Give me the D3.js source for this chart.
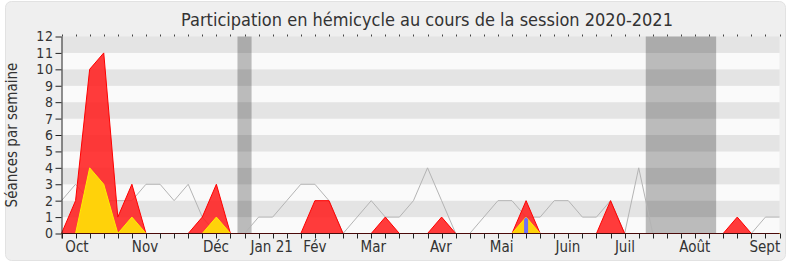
<!DOCTYPE html>
<html>
<head>
<meta charset="utf-8">
<script src="https://cdn.jsdelivr.net/npm/d3@7"></script>
<style>
  body { margin: 0; background: #fff; }
  text { font-family: "DejaVu Sans Condensed", "DejaVu Sans", sans-serif; fill: #333; }
</style>
</head>
<body>
<div id="chart"></div>
<script>
// one point per week, index 0..51
const presence = [0, 2, 10, 11, 1, 3, 0, 0, 0, 0, 1, 3, 0, 0, 0, 0, 0, 0, 2, 2, 0, 0, 0, 1, 0, 0,
                  0, 1, 0, 0, 0, 0, 0, 2, 0, 0, 0, 0, 0, 2, 0, 0, 0, 0, 0, 0, 0, 0, 1, 0, 0, 0];
const interventions = [0, 0, 4, 3, 0, 1, 0, 0, 0, 0, 0, 1, 0, 0, 0, 0, 0, 0, 0, 0, 0, 0, 0, 0, 0, 0,
                       0, 0, 0, 0, 0, 0, 0, 1, 0, 0, 0, 0, 0, 0, 0, 0, 0, 0, 0, 0, 0, 0, 0, 0, 0, 0];
const mediane = [2, 3, 2, 2, 2, 2, 3, 3, 2, 3, 1, 0, 0, 0, 1, 1, 2, 3, 3, 2, 0, 1, 2, 1, 1, 2,
                 4, 2, 0, 0, 1, 2, 2, 1, 1, 2, 2, 1, 1, 2, 0, 4, 0, 0, 0, 0, 0, 0, 0, 0, 1, 1];
const questions = [{week: 33, value: 1}];
const vacances = [[12.5, 13.5], [41.5, 46.5]];
const monthLabels = ["Oct", "Nov", "Déc", "Jan 21", "Fév", "Mar", "Avr", "Mai", "Juin", "Juil", "Août", "Sept"];
const monthPos = [1.1, 5.93, 10.97, 14.93, 18.0, 22.15, 26.95, 31.26, 35.97, 40.02, 44.99, 49.96];
const yTicks = d3.range(0, 13);

const width = 790, height = 267;
const marginLeft = 61.5, marginRight = 10.5, marginTop = 36.5, plotBottom = 233.5;

const svg = d3.select("#chart").append("svg")
    .attr("width", width)
    .attr("height", height)
    .attr("viewBox", [0, 0, width, height]);

svg.append("rect")
    .attr("x", 5.5).attr("y", 1.5)
    .attr("width", 780).attr("height", 259)
    .attr("rx", 6)
    .attr("fill", "#efefef")
    .attr("stroke", "#e2e2e2");

const x = d3.scaleLinear().domain([0, 51]).range([marginLeft, width - marginRight]);
const y = d3.scaleLinear().domain([0, 12]).range([plotBottom, marginTop]);

// horizontal stripes
svg.append("g")
    .selectAll("rect")
    .data(d3.range(0, 12))
    .join("rect")
    .attr("x", x(0))
    .attr("y", d => y(d + 1))
    .attr("width", x(51) - x(0))
    .attr("height", d => y(d) - y(d + 1))
    .attr("fill", d => d % 2 === 1 ? "#e4e4e4" : "#fafafa");

// vacation bands
svg.append("g")
    .selectAll("rect")
    .data(vacances)
    .join("rect")
    .attr("x", d => x(d[0]))
    .attr("y", y(12))
    .attr("width", d => x(d[1]) - x(d[0]))
    .attr("height", y(0) - y(12))
    .attr("fill", "#000")
    .attr("fill-opacity", 0.25);

const idx = d3.range(0, 52);

svg.append("path")
    .datum(idx)
    .attr("fill", "none")
    .attr("stroke", "#b4b4b4")
    .attr("stroke-width", 1)
    .attr("d", d3.line().x(i => x(i)).y(i => y(mediane[i])));

const area = vals => d3.area().x(i => x(i)).y0(y(0)).y1(i => y(vals[i]));

svg.append("path")
    .datum(idx)
    .attr("fill", "#ff2020")
    .attr("fill-opacity", 0.88)
    .attr("stroke", "#ff0000")
    .attr("stroke-width", 1)
    .attr("d", area(presence));

svg.append("clipPath")
    .attr("id", "clip-yellow")
    .append("path")
    .datum(idx)
    .attr("d", area(interventions));

svg.append("path")
    .datum(idx)
    .attr("fill", "#ffd20a")
    .attr("stroke", "#ffee00")
    .attr("stroke-width", 1)
    .attr("d", area(interventions));

svg.append("g")
    .attr("clip-path", "url(#clip-yellow)")
    .selectAll("rect")
    .data(questions)
    .join("rect")
    .attr("x", d => x(d.week) - 2)
    .attr("y", d => y(d.value))
    .attr("width", 4)
    .attr("height", d => y(0) - y(d.value))
    .attr("fill", "#6f6ff7");

// x axis
const xAxis = svg.append("g")
    .attr("transform", `translate(0,${plotBottom})`);
xAxis.append("line")
    .attr("x1", x(0)).attr("x2", x(51))
    .attr("stroke", "#4a0a0a");
xAxis.selectAll(".wk")
    .data(idx)
    .join("line")
    .attr("class", "wk")
    .attr("x1", i => Math.round(x(i)) + 0.5).attr("x2", i => Math.round(x(i)) + 0.5)
    .attr("y1", 0).attr("y2", 5)
    .attr("stroke", "#222");
xAxis.selectAll("text")
    .data(monthLabels)
    .join("text")
    .attr("x", (d, i) => x(monthPos[i]))
    .attr("y", 18)
    .attr("text-anchor", "middle")
    .attr("font-size", 15)
    .text(d => d);

// top dotted ticks
svg.append("g")
    .selectAll("line")
    .data(idx)
    .join("line")
    .attr("x1", i => Math.round(x(i)) + 0.5).attr("x2", i => Math.round(x(i)) + 0.5)
    .attr("y1", marginTop - 2).attr("y2", marginTop)
    .attr("stroke", "#444");

// y axis
const yAxis = svg.append("g")
    .attr("transform", `translate(${marginLeft},0)`)
    .call(d3.axisLeft(y).tickValues(yTicks).tickSize(6).tickSizeOuter(0).tickPadding(2))
    .call(g => g.select(".domain").attr("stroke", "#222"))
    .call(g => g.selectAll(".tick line").attr("stroke", "#222"))
    .call(g => g.selectAll(".tick text")
        .attr("font-size", 14)
        .attr("font-family", "DejaVu Sans, sans-serif")
        .attr("letter-spacing", 0.6)
        .attr("fill", "#333"));
yAxis.select(".domain").attr("d", `M0.5,${marginTop}V${plotBottom + 5}`);

svg.append("text")
    .attr("transform", `translate(17,${(marginTop + plotBottom) / 2}) rotate(-90)`)
    .attr("text-anchor", "middle")
    .attr("font-size", 15)
    .text("Séances par semaine");

svg.append("text")
    .attr("x", 427)
    .attr("y", 26)
    .attr("text-anchor", "middle")
    .attr("font-size", 18)
    .text("Participation en hémicycle au cours de la session 2020-2021");
</script>
</body>
</html>
